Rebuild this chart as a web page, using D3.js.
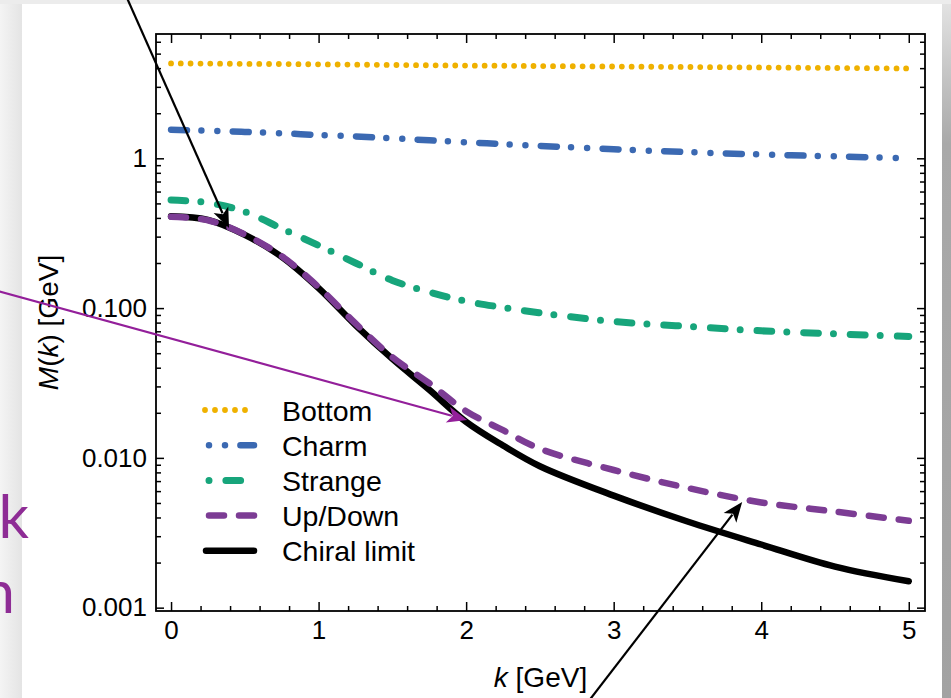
<!DOCTYPE html>
<html lang="en">

<head>
    <title>Quark mass function</title>
    <meta charset="UTF-8">
    <script src="https://d3js.org/d3.v7.min.js"></script>
    <style>
        body {
            margin: 0;
            background: #ececec;
        }

        svg {
            display: block;
        }

        .axis text {
            font: 26px 'Liberation Sans', Arial, sans-serif;
            fill: #000;
        }

        .axis line {
            stroke: #000;
            stroke-width: 1.5;
        }

        .axis path {
            display: none;
        }

        .legend text {
            font: 28.5px 'Liberation Sans', Arial, sans-serif;
            fill: #000;
        }

        .label {
            font: 28px 'Liberation Sans', Arial, sans-serif;
            fill: #000;
        }

        .slide-text {
            font: 60px Lato, 'Open Sans', sans-serif;
            fill: #8e2c95;
        }
    </style>
</head>

<body>
<script>
    // values
    var kValues = [0, 0.25, 0.5, 0.75, 1, 1.25, 1.5, 1.75, 2, 2.25, 2.5, 3, 3.5, 4, 4.5, 5];
    var bottomMass = [4.30, 4.29, 4.27, 4.26, 4.24, 4.22, 4.20, 4.18, 4.16, 4.15, 4.13, 4.10, 4.07, 4.04, 4.01, 3.98];
    var charmMass = [1.55, 1.53, 1.50, 1.47, 1.43, 1.40, 1.36, 1.32, 1.28, 1.245, 1.21, 1.15, 1.10, 1.06, 1.03, 1.00];
    var strangeMass = [0.527, 0.505, 0.44, 0.34, 0.262, 0.20, 0.153, 0.128, 0.111, 0.101, 0.093, 0.0814, 0.0755, 0.0705, 0.0673, 0.0647];
    var upDownMass = [0.408, 0.386, 0.31, 0.222, 0.138, 0.079, 0.047, 0.0315, 0.0205, 0.0153, 0.0115, 0.0083, 0.0063, 0.00504, 0.00438, 0.0038];
    var chiralMass = [0.41, 0.388, 0.308, 0.22, 0.136, 0.077, 0.0458, 0.0285, 0.0174, 0.0121, 0.0088, 0.0056, 0.00376, 0.00264, 0.00188, 0.0015];
    var seriesNames = ["Bottom", "Charm", "Strange", "Up/Down", "Chiral limit"];
    var xTickValues = [0, 1, 2, 3, 4, 5];
    var yTickValues = [0.001, 0.01, 0.1, 1];

    // annotation arrows: tip in data units (k, M)
    var arrowTipK = [0.393, 2.007, 3.871];
    var arrowTipM = [0.343, 0.0179, 0.00508];

    function draw() {
        "use strict";

        var W = 951, H = 698;
        var frame = { left: 156, right: 925, top: 34, bottom: 611 };

        var svg = d3.select("body").append("svg")
            .attr("width", W)
            .attr("height", H);

        var defs = svg.append("defs");
        var side = defs.append("linearGradient")
            .attr("id", "rightShade")
            .attr("x1", 0).attr("y1", 0).attr("x2", 0).attr("y2", 1);
        side.append("stop").attr("offset", "0%").attr("stop-color", "#e2e2e2");
        side.append("stop").attr("offset", "20%").attr("stop-color", "#a9a9a9");
        side.append("stop").attr("offset", "100%").attr("stop-color", "#a2a2a2");

        var leftShade = defs.append("linearGradient")
            .attr("id", "leftShade")
            .attr("x1", 0).attr("y1", 0).attr("x2", 1).attr("y2", 0);
        leftShade.append("stop").attr("offset", "0%").attr("stop-color", "#f4f4f4");
        leftShade.append("stop").attr("offset", "100%").attr("stop-color", "#e4e4e4");

        // slide background
        svg.append("rect").attr("width", W).attr("height", H).attr("fill", "#ececec");
        svg.append("rect").attr("x", 0).attr("y", 4).attr("width", 22).attr("height", H)
            .attr("fill", "url(#leftShade)");
        svg.append("rect").attr("x", 942).attr("y", 4).attr("width", 9).attr("height", H)
            .attr("fill", "url(#rightShade)");
        svg.append("rect").attr("x", 22).attr("y", 4).attr("width", 920).attr("height", H)
            .attr("fill", "#fff");

        // slide text that runs off the left edge, as in the screenshot
        svg.append("text").attr("class", "slide-text")
            .attr("x", 29).attr("y", 538).attr("text-anchor", "end").text("Quark");
        svg.append("text").attr("class", "slide-text")
            .attr("x", 15).attr("y", 613).attr("text-anchor", "end").text("function");

        var x = d3.scaleLinear()
            .domain([-0.102, 5.11])
            .range([frame.left, frame.right]);

        var y = d3.scaleLog()
            .domain([0.00095, 6.76])
            .range([frame.bottom, frame.top]);

        var xMinor = d3.range(0, 5.11, 0.2).filter(function(v) {
            return Math.abs(v - Math.round(v)) > 1e-6;
        });
        var yMinor = [];
        yTickValues.forEach(function(d) {
            for (var m = 2; m <= 9; m++) {
                if (d * m <= y.domain()[1]) yMinor.push(d * m);
            }
        });

        var yFormat = function(d) {
            return d >= 1 ? "1" : d3.format(".3f")(d);
        };

        // ticks point inward on all four sides
        svg.append("g").attr("class", "axis")
            .attr("transform", "translate(0," + frame.bottom + ")")
            .call(d3.axisBottom(x).tickValues(xTickValues).tickSize(-9).tickPadding(10).tickFormat(d3.format("d")));
        svg.append("g").attr("class", "axis")
            .attr("transform", "translate(0," + frame.bottom + ")")
            .call(d3.axisBottom(x).tickValues(xMinor).tickSize(-5).tickFormat(""));
        svg.append("g").attr("class", "axis")
            .attr("transform", "translate(0," + frame.top + ")")
            .call(d3.axisTop(x).tickValues(xTickValues).tickSize(-9).tickFormat(""));
        svg.append("g").attr("class", "axis")
            .attr("transform", "translate(0," + frame.top + ")")
            .call(d3.axisTop(x).tickValues(xMinor).tickSize(-5).tickFormat(""));

        svg.append("g").attr("class", "axis")
            .attr("transform", "translate(" + frame.left + ",0)")
            .call(d3.axisLeft(y).tickValues(yTickValues).tickSize(-8).tickPadding(9).tickFormat(yFormat));
        svg.append("g").attr("class", "axis")
            .attr("transform", "translate(" + frame.left + ",0)")
            .call(d3.axisLeft(y).tickValues(yMinor).tickSize(-5).tickFormat(""));
        svg.append("g").attr("class", "axis")
            .attr("transform", "translate(" + frame.right + ",0)")
            .call(d3.axisRight(y).tickValues(yTickValues).tickSize(-8).tickFormat(""));
        svg.append("g").attr("class", "axis")
            .attr("transform", "translate(" + frame.right + ",0)")
            .call(d3.axisRight(y).tickValues(yMinor).tickSize(-5).tickFormat(""));

        svg.append("rect")
            .attr("x", frame.left).attr("y", frame.top)
            .attr("width", frame.right - frame.left)
            .attr("height", frame.bottom - frame.top)
            .attr("fill", "none")
            .attr("stroke", "#000")
            .attr("stroke-width", 1.8);

        // series
        var masses = [bottomMass, charmMass, strangeMass, upDownMass, chiralMass];
        var styles = [
            { color: "#efb100", width: 5.8, dash: "0,9.8", legendDash: "0,10", legendOffset: 0 },
            { color: "#3b69b2", width: 6.5, dash: "16,14.3,0,16,0,15.4", legendDash: "16,14.3,0,16,0,15.4", legendOffset: 27.3 },
            { color: "#17a57b", width: 7, dash: "14.7,15.1,0,16.9", legendDash: "14.7,15.1,0,16.9", legendOffset: 26.8 },
            { color: "#7c3c94", width: 6.5, dash: "15,15", legendDash: "15,15", legendOffset: 27 },
            { color: "#000", width: 6.5, dash: null, legendDash: null, legendOffset: 0 }
        ];

        var line = d3.line()
            .x(function(d) { return x(d[0]); })
            .y(function(d) { return y(d[1]); })
            .curve(d3.curveCatmullRom.alpha(0.5));

        // chiral limit drawn under up/down
        var order = [0, 1, 2, 4, 3];
        order.forEach(function(i) {
            var pts = kValues.map(function(k, j) { return [k, masses[i][j]]; });
            svg.append("path")
                .datum(pts)
                .attr("d", line)
                .attr("fill", "none")
                .attr("stroke", styles[i].color)
                .attr("stroke-width", styles[i].width)
                .attr("stroke-linecap", "round")
                .attr("stroke-dasharray", styles[i].dash);
        });

        // legend
        var legend = svg.append("g").attr("class", "legend")
            .attr("transform", "translate(203,410)");
        seriesNames.forEach(function(name, i) {
            var row = legend.append("g").attr("transform", "translate(0," + (i * 35.2) + ")");
            var x0 = i === 0 ? 2 : 3, x1 = i === 0 ? 44 : 51;
            row.append("line")
                .attr("x1", x0).attr("x2", x1)
                .attr("y1", 0).attr("y2", 0)
                .attr("stroke", styles[i].color)
                .attr("stroke-width", styles[i].width)
                .attr("stroke-linecap", "round")
                .attr("stroke-dasharray", styles[i].legendDash)
                .attr("stroke-dashoffset", styles[i].legendOffset);
            row.append("text")
                .attr("x", 79)
                .attr("y", 10.5)
                .text(name);
        });

        // axis titles
        var xt = svg.append("text").attr("class", "label")
            .attr("x", (frame.left + frame.right) / 2)
            .attr("y", 687)
            .attr("text-anchor", "middle");
        xt.append("tspan").attr("font-style", "italic").text("k");
        xt.append("tspan").text(" [GeV]");

        var yt = svg.append("text").attr("class", "label")
            .attr("transform", "translate(58," + ((frame.top + frame.bottom) / 2) + ") rotate(-90)")
            .attr("text-anchor", "middle");
        yt.append("tspan").attr("font-style", "italic").text("M");
        yt.append("tspan").text("(");
        yt.append("tspan").attr("font-style", "italic").text("k");
        yt.append("tspan").text(") [GeV]");

        // annotation arrows
        var arrowTails = [[127, -2], [-2, 291], [588, 702]];
        var arrowColors = ["#000", "#931f9a", "#000"];
        arrowTipK.forEach(function(k, i) {
            var tx = x(k), ty = y(arrowTipM[i]);
            var sx = arrowTails[i][0], sy = arrowTails[i][1];
            var ang = Math.atan2(ty - sy, tx - sx);
            var len = 20, half = 8;
            var bx = tx - len * Math.cos(ang), by = ty - len * Math.sin(ang);
            svg.append("line")
                .attr("x1", sx).attr("y1", sy)
                .attr("x2", bx + 4 * Math.cos(ang)).attr("y2", by + 4 * Math.sin(ang))
                .attr("stroke", arrowColors[i])
                .attr("stroke-width", 2.2);
            var px = -Math.sin(ang) * half, py = Math.cos(ang) * half;
            svg.append("path")
                .attr("d", "M" + tx + "," + ty +
                    "L" + (bx + px) + "," + (by + py) +
                    "L" + (bx + 5 * Math.cos(ang)) + "," + (by + 5 * Math.sin(ang)) +
                    "L" + (bx - px) + "," + (by - py) + "Z")
                .attr("fill", arrowColors[i]);
        });
    }

    draw();
</script>
</body>

</html>
